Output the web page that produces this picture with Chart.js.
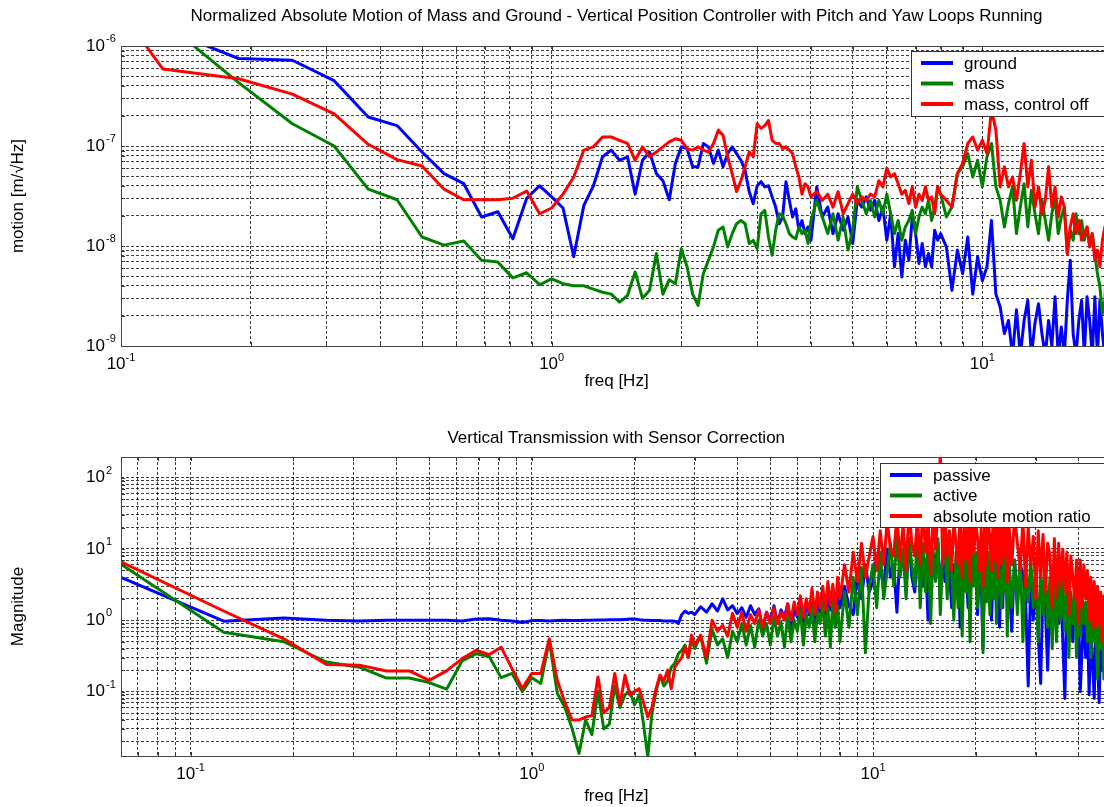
<!DOCTYPE html>
<html>
<head>
<meta charset="utf-8">
<script src="https://cdn.jsdelivr.net/npm/chart.js@4.4.0/dist/chart.umd.min.js"></script>
<style>
html,body{margin:0;padding:0;background:#fff;overflow:hidden;width:1104px;height:807px}
canvas{position:absolute;left:0}
</style>
</head>
<body>
<canvas id="topChart" width="1120" height="400" style="top:0"></canvas>
<canvas id="botChart" width="1120" height="407" style="top:400px"></canvas>
<script>
// ===== TOP PLOT DATA (freq in Hz, motion in m/rtHz) =====
let freqTop=[
0.0625,0.125,0.1875,0.25,0.3125,0.375,0.4375,0.5,0.5625,0.625,0.6875,0.75,0.8125,0.875,0.9375,1,
1.0625,1.125,1.1875,1.25,1.3125,1.375,1.4375,1.5,1.5625,1.625,1.6875,1.75,1.8125,1.875,1.9375,2,
2.0625,2.125,2.1875,2.25,2.3125,2.375,2.4375,2.5,2.5625,2.625,2.6875,2.75,2.8125,2.875,2.9375,3,
3.0625,3.125,3.1875,3.25,3.3125,3.375,3.4375,3.5,3.5625,3.625,3.6875,3.75,3.8125,3.875,3.9375,4,
4.125,4.25,4.375,4.5,4.625,4.75,4.875,5,5.125,5.25,5.375,5.5,5.625,5.75,5.875,6,
6.125,6.25,6.375,6.5,6.625,6.75,6.875,7,7.125,7.25,7.375,7.5,7.625,7.75,7.875,8,
8.25,8.5,8.75,9,9.25,9.5,9.75,10,10.25,10.5,10.75,11,11.25,11.5,11.75,12,
12.25,12.5,12.75,13,13.25,13.5,13.75,14,14.25,14.5,14.75,15,15.25,15.5,15.75,16,
16.25,16.5,16.75,17,17.25,17.5,17.75,18,18.25,18.5,18.75,19,19.25,19.5,19.75,20]

let ground=[
1.0e-5,1.5e-6,7.5e-7,7.2e-7,4.5e-7,1.95e-7,1.6e-7,8.7e-8,5.3e-8,4.2e-8,1.95e-8,2.2e-8,1.18e-8,3.0e-8,4.0e-8,3.1e-8,
2.4e-8,7.8e-9,2.55e-8,4.0e-8,7.8e-8,9.1e-8,7.2e-8,7.8e-8,3.3e-8,7.2e-8,8.7e-8,5.3e-8,4.5e-8,2.9e-8,6.7e-8,9.8e-8,
9.4e-8,6.2e-8,6.2e-8,1.06e-7,9.8e-8,6.7e-8,9.1e-8,6.2e-8,8.4e-8,9.8e-8,8.4e-8,7.2e-8,5.7e-8,3.5e-8,2.65e-8,4.0e-8,
4.4e-8,3.9e-8,4.0e-8,3.1e-8,2.45e-8,1.67e-8,1.95e-8,4.4e-8,2.86e-8,1.95e-8,2.35e-8,1.44e-8,1.8e-8,1.33e-8,1.55e-8,1.14e-8,
3.9e-8,1.95e-8,2.45e-8,1.33e-8,2.1e-8,1.44e-8,1.95e-8,1.06e-8,2.86e-8,2.45e-8,3.1e-8,2.27e-8,2.86e-8,1.8e-8,2.45e-8,1.14e-8,
2.1e-8,6.2e-9,1.33e-8,4.9e-9,1.14e-8,7.2e-9,1.95e-8,1.33e-8,6.7e-9,1.06e-8,6.2e-9,8.4e-9,6.2e-9,1.44e-8,1.14e-8,1.33e-8,
9.8e-9,3.6e-9,9.1e-9,5.3e-9,1.23e-8,3.3e-9,7.8e-9,4.5e-9,6.2e-9,1.8e-8,3.3e-9,2.45e-9,1.33e-9,1.8e-9,8e-10,2.3e-9,
8e-10,1.8e-9,2.86e-9,8e-10,1.7e-9,2.65e-9,1.33e-9,8e-10,1.8e-9,1.0e-9,3.1e-9,8e-10,1.55e-9,8e-10,2.86e-9,7.2e-9,
1.33e-9,8e-10,1.8e-9,2.86e-9,8e-10,3.1e-9,1.8e-9,8e-10,3.1e-9,8e-10,2.86e-9,1.33e-9,8e-10,9e-10,2e-9,1e-9]

let mass=[
2.0e-5,1.8e-6,4.3e-7,1.67e-7,1.0e-7,3.7e-8,2.9e-8,1.23e-8,1.02e-8,1.12e-8,7.2e-9,6.9e-9,4.8e-9,5.4e-9,4.1e-9,4.7e-9,
4.2e-9,4.0e-9,4.0e-9,3.7e-9,3.45e-9,3.3e-9,2.75e-9,3.2e-9,5.5e-9,3.0e-9,3.6e-9,8.4e-9,3.3e-9,4.6e-9,4.2e-9,9.4e-9,
6.2e-9,3.3e-9,2.55e-9,5.3e-9,7.2e-9,9.8e-9,1.44e-8,1.55e-8,9.8e-9,1.33e-8,1.67e-8,1.8e-8,1.67e-8,1.06e-8,1.14e-8,9.4e-9,
2.1e-8,2.27e-8,1.23e-8,8.1e-9,1.44e-8,2.1e-8,2.0e-8,1.67e-8,1.33e-8,1.23e-8,1.18e-8,1.55e-8,1.33e-8,1.44e-8,1.06e-8,1.8e-8,
2.86e-8,1.95e-8,1.33e-8,2.1e-8,1.14e-8,1.95e-8,9.1e-9,1.44e-8,3.9e-8,2.86e-8,2.1e-8,2.86e-8,1.95e-8,2.86e-8,2.1e-8,3.3e-8,
2.1e-8,1.33e-8,1.8e-8,1.14e-8,1.55e-8,1.8e-8,2.27e-8,1.33e-8,1.95e-8,2.45e-8,2.1e-8,2.86e-8,1.8e-8,2.45e-8,3.9e-8,3.3e-8,
1.95e-8,2.45e-8,5.3e-8,6.2e-8,8.4e-8,4.9e-8,7.2e-8,3.9e-8,7.8e-8,1.06e-7,3.9e-8,2.86e-8,1.55e-8,2.65e-8,3.9e-8,1.33e-8,
2.45e-8,4.2e-8,1.55e-8,3.6e-8,2.1e-8,1.33e-8,2.86e-8,1.8e-8,1.14e-8,2.1e-8,3.1e-8,1.33e-8,1.95e-8,2.45e-8,8.4e-9,1.44e-8,
1.14e-8,2.1e-8,1.33e-8,1.8e-8,1.14e-8,1.55e-8,9.8e-9,1.33e-8,8.4e-9,5.3e-9,3.9e-9,2.1e-9,2.86e-9,1.0e-8,1.2e-8,1.0e-8]

let massOff=[
3.7e-5,5.9e-7,4.7e-7,3.3e-7,2.1e-7,1.04e-7,7.3e-8,6.3e-8,3.7e-8,2.9e-8,2.9e-8,2.9e-8,3.0e-8,3.55e-8,2.1e-8,2.4e-8,
3.3e-8,4.9e-8,9.1e-8,9.8e-8,1.23e-7,1.23e-7,1.14e-7,1.06e-7,7.2e-8,9.8e-8,7.8e-8,8.7e-8,9.8e-8,1.1e-7,1.18e-7,1.14e-7,
9.4e-8,9.1e-8,9.8e-8,9.1e-8,8.7e-8,1.06e-7,1.44e-7,1.28e-7,7.8e-8,5.3e-8,3.5e-8,4.5e-8,6.2e-8,8.7e-8,7.8e-8,1.67e-7,
1.5e-7,1.6e-7,1.8e-7,1.14e-7,1.06e-7,1.06e-7,9.4e-8,9.8e-8,9.1e-8,8.4e-8,6.2e-8,4.9e-8,3.3e-8,4.2e-8,3.9e-8,3.1e-8,
3.5e-8,2.86e-8,3.3e-8,2.45e-8,3.5e-8,2.1e-8,2.65e-8,3.3e-8,2.65e-8,3.1e-8,2.86e-8,3.3e-8,3.1e-8,4.5e-8,3.9e-8,6.0e-8,
4.9e-8,5.3e-8,4.2e-8,3.3e-8,3.6e-8,2.65e-8,3.9e-8,2.45e-8,3.3e-8,2.86e-8,3.9e-8,2.86e-8,3.1e-8,2.1e-8,3.9e-8,3.3e-8,
2.86e-8,2.45e-8,5.3e-8,6.7e-8,1.06e-7,1.23e-7,9.1e-8,1.14e-7,8.4e-8,2.3e-7,1.44e-7,3.9e-8,6.2e-8,3.9e-8,4.9e-8,2.86e-8,
5.3e-8,1.06e-7,3.9e-8,7.2e-8,2.45e-8,3.9e-8,2.1e-8,2.86e-8,6.2e-8,2.45e-8,3.9e-8,1.95e-8,3.1e-8,2.45e-8,8.4e-9,1.55e-8,
2.1e-8,1.33e-8,1.8e-8,1.14e-8,1.33e-8,1.55e-8,9.8e-9,1.33e-8,7.2e-9,9.1e-9,6.2e-9,1.14e-8,1.55e-8,1.5e-8,1.3e-8,1.4e-8]

// ===== BOTTOM PLOT DATA (freq in Hz, transmission magnitude) =====
let freqBot=[
0.0625,0.125,0.1875,0.25,0.3125,0.375,0.4375,0.5,0.5625,0.625,0.6875,0.75,0.8125,0.875,0.9375,1,
1.0625,1.125,1.1875,1.25,1.3125,1.375,1.4375,1.5,1.5625,1.625,1.6875,1.75,1.8125,1.875,1.9375,2,
2.0625,2.125,2.1875,2.25,2.3125,2.375,2.4375,2.5,2.5625,2.625,2.6875,2.75,2.8125,2.875,2.9375,3,
3.125,3.25,3.375,3.5,3.625,3.75,3.875,4,4.125,4.25,4.375,4.5,4.625,4.75,4.875,5,
5.125,5.25,5.375,5.5,5.625,5.75,5.875,6,6.125,6.25,6.375,6.5,6.625,6.75,6.875,7,
7.125,7.25,7.375,7.5,7.625,7.75,7.875,8,8.25,8.5,8.75,9,9.25,9.5,9.75,10,
10.25,10.5,10.75,11,11.25,11.5,11.75,12,12.25,12.5,12.75,13,13.25,13.5,13.75,14,
14.25,14.5,14.75,15,15.25,15.5,15.75,16,16.25,16.5,16.75,17,17.25,17.5,17.75,18,
18.25,18.5,18.75,19,19.25,19.5,19.75,20,20.25,20.5,20.75,21,21.25,21.5,21.75,22,
22.25,22.5,22.75,23,23.25,23.5,23.75,24,24.25,24.5,24.75,25,25.5,26,26.5,27,
27.5,28,28.5,29,29.5,30,30.5,31,31.5,32,32.5,33,33.5,34,34.5,35,
35.5,36,36.5,37,37.5,38,38.5,39,39.5,40,40.5,41,41.5,42,42.5,43,
43.5,44,44.5,45,45.5,46,46.5,47,47.5,48,48.5,49,49.5,50]

let passive=[
4.0,0.97,1.08,1.0,0.98,1.0,1.0,1.0,1.0,0.98,1.04,1.05,1.0,0.98,0.93,0.99,
0.99,0.98,0.99,1.0,0.99,0.99,1.0,1.0,1.01,1.01,1.02,1.02,1.02,1.03,1.04,1.04,
1.02,1.0,1.0,0.99,0.99,0.99,0.98,0.98,0.98,0.97,0.9,1.2,1.35,1.25,1.3,1.2,
1.55,1.3,1.7,1.35,2.0,1.4,1.6,1.25,1.5,1.1,1.6,1.2,1.45,0.75,1.3,1.0,
1.6,0.9,1.4,1.1,1.7,0.65,1.5,1.1,2.0,0.75,1.8,1.2,2.2,0.8,1.9,1.3,
2.5,1.0,2.2,1.4,2.8,0.8,2.4,1.5,3.0,1.6,1.2,4.5,2.0,6.0,2.5,3.5,
8.0,5.0,3.0,10,4.0,6.0,1.3,9.0,7.0,3.5,12,4.0,2.5,8.0,10,3.0,
7.0,1.0,9.0,4.0,6.0,12,2.0,8.0,3.5,10,5.0,1.5,6.0,2.5,9.0,0.8,
7.0,3.0,5.0,1.5,10,6.0,3.5,8.0,1.2,6.0,4.0,0.4,5.0,2.0,7.0,3.0,
1.0,5.5,2.5,8.0,4.0,0.8,6.0,1.5,9.0,3.0,2.0,5.0,0.7,7.0,1.8,6.0,
4.5,2.0,0.12,4.0,1.0,5.0,0.6,0.13,3.5,1.5,0.2,3.0,0.8,3.5,2.0,0.9,
3.0,0.5,0.08,2.5,1.0,2.2,0.5,1.8,0.7,1.5,0.1,0.4,1.2,0.3,1.0,0.09,
0.9,0.25,0.08,0.8,0.3,0.07,0.6,0.2,0.5,0.15,0.4,0.2,0.3,0.25]

let active=[
6.1,0.68,0.5,0.26,0.22,0.155,0.155,0.134,0.108,0.27,0.34,0.31,0.157,0.18,0.10,0.157,
0.13,0.52,0.095,0.06,0.03,0.0136,0.04,0.025,0.10,0.03,0.035,0.12,0.06,0.09,0.10,0.065,
0.09,0.035,0.012,0.05,0.10,0.17,0.12,0.14,0.22,0.25,0.34,0.38,0.45,0.3,0.55,0.4,
0.6,0.25,0.75,0.45,0.55,0.3,0.7,0.5,0.9,0.45,0.85,0.42,1.0,0.6,0.9,0.45,
1.1,0.6,0.95,0.42,1.2,0.5,1.0,0.7,1.4,0.45,1.2,0.8,1.5,0.5,1.3,0.9,
1.8,0.6,1.5,0.42,2.0,0.8,1.6,0.5,2.5,0.8,4.0,1.2,5.5,0.35,3.0,6.0,
1.5,9.0,2.0,5.0,12,3.0,15,4.0,10,2.0,14,6.0,3.0,18,1.5,12,
2.5,16,0.9,10,3.5,14,1.2,8.0,12,2.0,15,5.0,1.0,9.0,1.5,11,
0.6,10,2.5,8.0,0.5,12,3.0,9.0,1.5,6.0,8.0,0.35,7.0,1.8,9.0,1.2,
8.0,2.0,10,0.9,7.0,4.0,1.5,11,2.5,8.0,0.6,9.0,1.5,7.0,1.2,10,
0.5,6.0,1.8,7.0,1.5,5.0,0.5,5.5,1.2,6.0,0.8,4.0,0.4,4.0,0.5,4.5,
1.0,3.5,0.7,3.0,0.3,2.5,0.9,2.0,0.3,2.8,0.6,2.2,0.9,1.8,0.5,1.5,
0.3,1.3,0.5,1.0,0.15,0.9,0.4,0.8,0.15,0.6,0.3,0.5,0.25,0.4]

let ratio=[
6.6,1.35,0.55,0.24,0.235,0.195,0.195,0.144,0.195,0.29,0.38,0.33,0.42,0.21,0.11,0.18,
0.18,0.55,0.144,0.07,0.04,0.04,0.044,0.046,0.16,0.05,0.06,0.18,0.065,0.17,0.09,0.1,
0.11,0.07,0.044,0.06,0.11,0.17,0.14,0.2,0.11,0.22,0.26,0.30,0.42,0.3,0.62,0.45,
0.62,0.3,1.0,0.7,0.85,0.6,1.25,0.8,1.3,0.7,1.2,0.9,1.4,0.8,1.3,0.9,
1.5,0.9,1.3,1.0,1.7,1.0,1.8,1.2,2.2,1.1,2.0,1.3,2.8,1.2,2.5,1.5,
3.0,1.4,3.5,1.6,3.2,1.3,4.0,2.0,6.0,2.5,9.0,3.5,12,4.0,8.0,15,
5.0,18,6.0,25,10,8.0,30,7.0,22,5.0,35,12,8.0,28,6.0,40,
9.0,25,4.5,30,10,35,220,6.0,28,8.0,18,5.0,25,12,6.0,30,
4.0,22,7.0,28,3.5,30,9.0,25,14,5.0,20,3.0,24,6.0,25,15,
5.0,30,7.0,28,4.0,22,6.0,30,8.0,25,3.5,24,6.0,28,12,5.0,
26,3.0,20,6.0,15,2.0,18,4.0,16,2.5,12,8,1.5,14,2.0,12,
3.0,10,2.5,9,1.2,8,4,2.0,7,0.9,7,1.5,6,2.0,5,1.0,
4,0.8,3.5,0.8,3,0.9,2.5,0.5,2.2,0.8,1.5,0.7,1.0,0.6]

// axis decades that get a 10^n label
let topXTicks=[0.1,1,10]
let topYTicks=[1e-9,1e-8,1e-7,1e-6]
let botXTicks=[0.1,1,10]
let botYTicks=[0.1,1,10,100]

const FONT='"Liberation Sans", Arial, Helvetica, sans-serif'

// log grid: 1..9 times each decade inside [lo,hi]
function logGrid(lo,hi){
    let out=[]
    for(let e=Math.floor(Math.log10(lo));e<=Math.ceil(Math.log10(hi));e++){
        for(let k=1;k<10;k++){
            let v=k*Math.pow(10,e)
            if(v>lo*1.0001 && v<hi*0.9999) out.push(v)
        }
    }
    return out
}

function pts(xs,ys){ return xs.map((x,i)=>({x:x,y:ys[i]})) }

// matlab-ish frame: box, inner ticks, 10^n labels, title, legend
function frame(cfg){
    return {
        id:'frame',
        afterDraw(chart){
            let ctx=chart.ctx, a=chart.chartArea
            let xs=chart.scales.x, ys=chart.scales.y
            ctx.save()
            ctx.strokeStyle='#333'; ctx.lineWidth=1
            ctx.beginPath()
            cfg.xGrid.forEach(v=>{
                let px=Math.round(xs.getPixelForValue(v))+0.5
                ctx.moveTo(px,a.bottom); ctx.lineTo(px,a.bottom-4)
                ctx.moveTo(px,a.top); ctx.lineTo(px,a.top+4)
            })
            cfg.yGrid.forEach(v=>{
                let py=Math.round(ys.getPixelForValue(v))+0.5
                ctx.moveTo(a.left,py); ctx.lineTo(a.left+4,py)
            })
            ctx.stroke()
            ctx.strokeStyle='#444'
            ctx.strokeRect(Math.round(a.left)+0.5,Math.round(a.top)+0.5,Math.round(a.right-a.left),Math.round(a.bottom-a.top))

            ctx.fillStyle='#000'; ctx.textBaseline='middle'; ctx.textAlign='left'
            cfg.xTicks.forEach(v=>{
                let e=String(Math.round(Math.log10(v)))
                ctx.font='17px '+FONT; let wb=ctx.measureText('10').width
                ctx.font='11px '+FONT; let we=ctx.measureText(e).width
                let x0=xs.getPixelForValue(v)-(wb+we)/2, y0=a.bottom+18.5
                ctx.font='17px '+FONT; ctx.fillText('10',x0,y0)
                ctx.font='11px '+FONT; ctx.fillText(e,x0+wb,y0-7)
            })
            cfg.yTicks.forEach(v=>{
                let e=String(Math.round(Math.log10(v)))
                let y0=ys.getPixelForValue(v)
                ctx.font='17px '+FONT; let wb=ctx.measureText('10').width
                ctx.fillText('10',a.left-16-wb,y0)
                ctx.font='11px '+FONT; ctx.fillText(e,a.left-15,y0-7)
            })

            ctx.font='17px '+FONT; ctx.textAlign='center'
            ctx.fillText(cfg.title,(a.left+a.right)/2,cfg.titleY)

            let L=cfg.legend
            ctx.fillStyle='#fff'; ctx.fillRect(L.x,L.y,L.w,L.h)
            ctx.strokeStyle='#333'; ctx.lineWidth=1
            ctx.strokeRect(L.x+0.5,L.y+0.5,L.w,L.h)
            chart.data.datasets.forEach((ds,i)=>{
                let yy=L.y+L.row0+i*L.step
                ctx.strokeStyle=ds.borderColor; ctx.lineWidth=4
                ctx.beginPath(); ctx.moveTo(L.x+10,yy); ctx.lineTo(L.x+42,yy); ctx.stroke()
                ctx.fillStyle='#000'; ctx.textAlign='left'; ctx.font='17px '+FONT
                ctx.fillText(ds.label,L.x+53,yy+1)
            })
            ctx.restore()
        }
    }
}

function logAxes(o){
    return {
        x:{
            type:'logarithmic',min:o.xmin,max:o.xmax,
            afterBuildTicks:s=>{ s.ticks=o.xGrid.map(v=>({value:v})) },
            afterFit:s=>{ s.height=o.xh },
            ticks:{display:false},
            grid:{color:'rgba(0,0,0,0.75)',lineWidth:1,drawTicks:false},
            border:{display:false,dash:[3,2]},
            title:{display:true,text:'freq [Hz]',color:'#000',font:{family:FONT,size:17},padding:{top:0,bottom:o.xpad}}
        },
        y:{
            type:'logarithmic',min:o.ymin,max:o.ymax,
            afterBuildTicks:s=>{ s.ticks=o.yGrid.map(v=>({value:v})) },
            afterFit:s=>{ s.width=121 },
            ticks:{display:false},
            grid:{color:'rgba(0,0,0,0.75)',lineWidth:1,drawTicks:false},
            border:{display:false,dash:[3,2]},
            title:{display:true,text:o.ytitle,color:'#000',font:{family:FONT,size:17},padding:{top:8,bottom:0}}
        }
    }
}

function lineSet(label,xs,ys,color,order){
    return {label:label,data:pts(xs,ys),borderColor:color,backgroundColor:color,borderWidth:3,
        pointRadius:0,tension:0,borderJoinStyle:'round',order:order}
}

// ===== TOP: absolute motion =====
let topXGrid=logGrid(0.1,20), topYGrid=logGrid(1e-9,1e-6)
new Chart(document.getElementById('topChart'),{
    type:'line',
    data:{datasets:[
        lineSet('ground',freqTop,ground,'#0000ff',3),
        lineSet('mass',freqTop,mass,'#008000',2),
        lineSet('mass, control off',freqTop,massOff,'#ff0000',1)
    ]},
    options:{
        responsive:false,animation:false,
        layout:{padding:{top:46,right:8,left:0,bottom:0}},
        plugins:{legend:{display:false},tooltip:{enabled:false}},
        scales:logAxes({xmin:0.1,xmax:20,ymin:1e-9,ymax:1e-6,xGrid:topXGrid,yGrid:topYGrid,xh:54,xpad:8,ytitle:'motion [m/\u221AHz]'})
    },
    plugins:[frame({xGrid:topXGrid,yGrid:topYGrid,xTicks:topXTicks,yTicks:topYTicks,
        title:'Normalized Absolute Motion of Mass and Ground - Vertical Position Controller with Pitch and Yaw Loops Running',
        titleY:16,legend:{x:911,y:51,w:300,h:65,row0:12,step:20.5}})]
})

// ===== BOTTOM: transmission =====
let botXGrid=logGrid(0.0625,50), botYGrid=logGrid(0.0125,195)
new Chart(document.getElementById('botChart'),{
    type:'line',
    data:{datasets:[
        lineSet('passive',freqBot,passive,'#0000ff',3),
        lineSet('active',freqBot,active,'#008000',2),
        lineSet('absolute motion ratio',freqBot,ratio,'#ff0000',1)
    ]},
    options:{
        responsive:false,animation:false,
        layout:{padding:{top:57,right:8.5,left:0,bottom:0}},
        plugins:{legend:{display:false},tooltip:{enabled:false}},
        scales:logAxes({xmin:0.0625,xmax:50,ymin:0.0125,ymax:195,xGrid:botXGrid,yGrid:botYGrid,xh:51,xpad:0,ytitle:'Magnitude'})
    },
    plugins:[frame({xGrid:botXGrid,yGrid:botYGrid,xTicks:botXTicks,yTicks:botYTicks,
        title:'Vertical Transmission with Sensor Correction',
        titleY:38,legend:{x:880,y:63,w:300,h:64,row0:12,step:20.5}})]
})
</script>
</body>
</html>
